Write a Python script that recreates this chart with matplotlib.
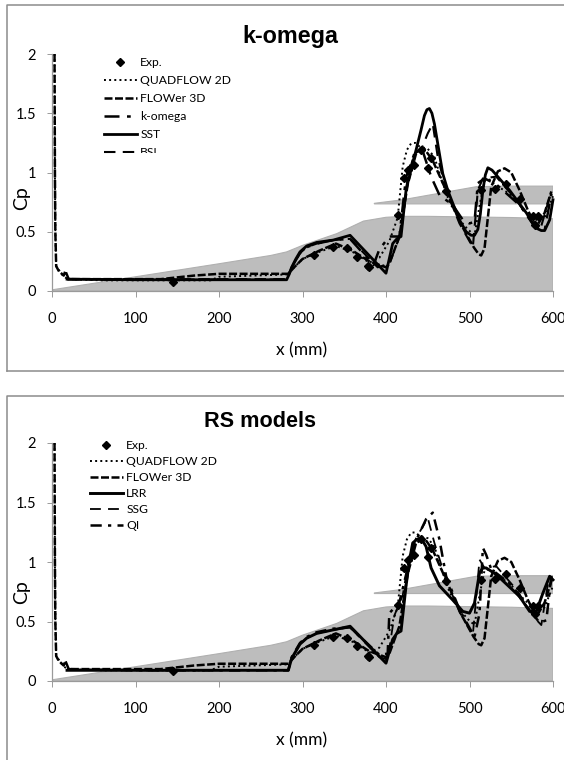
import matplotlib
matplotlib.use('Agg')
import matplotlib.pyplot as plt
from matplotlib.lines import Line2D
from matplotlib.patches import Rectangle

W, H = 564, 760

# ---- geometry of the bump (grey silhouette) ----
lower_x = [0, 100, 200, 262, 281, 300, 341, 373, 400, 420, 450, 500, 550, 600, 600, 0]
lower_y = [0.01, 0.12, 0.23, 0.30, 0.33, 0.385, 0.484, 0.59, 0.622, 0.63, 0.63, 0.625, 0.62, 0.61, 0, 0]
upper_x = [386, 420, 460, 508, 540, 600, 600, 386]
upper_y = [0.74, 0.77, 0.82, 0.88, 0.885, 0.885, 0.735, 0.735]

# ---- experiment ----
exp_x = [145, 314, 337, 353, 365, 378, 380, 414, 422, 426, 434, 442, 450, 454, 472, 514, 530, 544, 560, 576, 582, 578]
exp_y = [0.08, 0.30, 0.37, 0.36, 0.29, 0.21, 0.20, 0.64, 0.95, 1.02, 1.06, 1.19, 1.04, 1.12, 0.84, 0.85, 0.86, 0.90, 0.78, 0.63, 0.63, 0.56]

# ---- curves in both plots ----
quad_x = [3, 3.5, 4, 5, 8, 14, 20, 60, 120, 190, 200, 283, 290, 300, 320, 340, 360, 380, 392, 404, 414, 420, 425, 430, 435, 440, 450, 458, 466, 476, 488, 498, 506, 512, 518, 524, 530, 548, 566, 580, 590, 600]
quad_y = [2, 1, 0.5, 0.21, 0.18, 0.12, 0.10, 0.09, 0.09, 0.09, 0.12, 0.14, 0.20, 0.27, 0.33, 0.38, 0.33, 0.24, 0.28, 0.42, 0.62, 1.05, 1.19, 1.245, 1.25, 1.22, 1.20, 1.13, 0.95, 0.75, 0.60, 0.52, 0.47, 0.72, 0.93, 0.94, 0.90, 0.82, 0.68, 0.60, 0.62, 0.80]
flower_x = [3, 3.5, 4, 5, 8, 14, 16, 20, 60, 130, 170, 200, 283, 290, 300, 320, 340, 360, 380, 400, 404, 416, 426, 436, 446, 456, 470, 490, 505, 511, 514, 518, 526, 534, 542, 550, 560, 570, 580, 590, 598]
flower_y = [2, 1, 0.5, 0.21, 0.17, 0.13, 0.17, 0.10, 0.10, 0.10, 0.13, 0.145, 0.145, 0.20, 0.27, 0.34, 0.40, 0.34, 0.25, 0.20, 0.23, 0.46, 0.90, 1.16, 1.20, 1.10, 0.88, 0.56, 0.37, 0.31, 0.30, 0.36, 0.88, 1.01, 1.035, 1.00, 0.85, 0.68, 0.54, 0.66, 0.84]

# ---- top plot models ----
sst_x = [18, 100, 200, 281, 284, 287, 292, 297, 305, 317, 337, 357, 400, 408, 413, 418, 424, 430, 436, 442, 446, 449, 452, 455, 458, 463, 468, 474, 480, 488, 496, 502, 506, 510, 513, 516, 519, 522, 527, 532, 548, 568, 575, 580, 586, 590, 596, 600]
sst_y = [0.10, 0.095, 0.095, 0.095, 0.14, 0.20, 0.27, 0.33, 0.38, 0.41, 0.43, 0.47, 0.15, 0.40, 0.44, 0.46, 0.85, 1.03, 1.19, 1.36, 1.48, 1.53, 1.54, 1.50, 1.41, 1.20, 0.99, 0.85, 0.74, 0.60, 0.50, 0.47, 0.47, 0.52, 0.65, 0.85, 0.98, 1.04, 1.02, 0.98, 0.85, 0.66, 0.58, 0.53, 0.51, 0.51, 0.60, 0.77]
komega_x = [18, 100, 200, 281, 287, 297, 305, 317, 337, 357, 385, 392, 404, 416, 424, 434, 444, 454, 464, 480, 492, 500, 506, 510, 518, 532, 560, 576, 590, 598]
komega_y = [0.10, 0.095, 0.095, 0.095, 0.20, 0.32, 0.37, 0.40, 0.43, 0.44, 0.22, 0.35, 0.46, 0.46, 0.96, 1.16, 1.18, 0.965, 0.81, 0.725, 0.60, 0.57, 0.585, 0.91, 0.95, 0.90, 0.725, 0.57, 0.51, 0.82]
bsl_x = [18, 100, 200, 281, 287, 297, 305, 317, 337, 357, 390, 404, 418, 426, 434, 442, 450, 456, 462, 472, 488, 504, 510, 516, 532, 556, 576, 586, 598]
bsl_y = [0.10, 0.10, 0.10, 0.10, 0.20, 0.32, 0.37, 0.40, 0.43, 0.44, 0.20, 0.23, 0.49, 0.96, 1.16, 1.19, 1.33, 1.41, 1.13, 0.85, 0.57, 0.37, 0.85, 0.95, 0.965, 0.77, 0.56, 0.55, 0.84]

# ---- bottom plot models ----
lrr_x = [18, 100, 200, 283, 287, 292, 297, 305, 317, 337, 357, 400, 408, 413, 418, 424, 428, 432, 437, 442, 448, 454, 464, 480, 492, 500, 506, 512, 516, 520, 532, 560, 572, 580, 588, 596, 600]
lrr_y = [0.09, 0.09, 0.09, 0.09, 0.19, 0.25, 0.31, 0.36, 0.40, 0.43, 0.46, 0.15, 0.35, 0.40, 0.42, 0.80, 1.01, 1.16, 1.19, 1.20, 1.13, 0.95, 0.80, 0.68, 0.585, 0.57, 0.655, 0.91, 0.95, 0.95, 0.895, 0.71, 0.585, 0.585, 0.74, 0.88, 0.85]
ssg_x = [18, 100, 200, 283, 287, 297, 305, 317, 337, 357, 392, 402, 410, 420, 428, 436, 450, 458, 472, 488, 504, 512, 518, 532, 556, 580, 586, 594, 599]
ssg_y = [0.10, 0.09, 0.09, 0.09, 0.19, 0.31, 0.36, 0.40, 0.43, 0.45, 0.20, 0.18, 0.55, 0.72, 1.05, 1.20, 1.37, 1.16, 0.85, 0.58, 0.39, 1.02, 0.95, 0.965, 0.77, 0.515, 0.47, 0.82, 0.88]
qi_x = [18, 100, 200, 283, 287, 297, 305, 317, 337, 357, 392, 402, 404, 416, 426, 436, 448, 456, 464, 472, 488, 506, 512, 516, 520, 526, 548, 568, 584, 592, 598]
qi_y = [0.10, 0.09, 0.09, 0.09, 0.20, 0.32, 0.37, 0.41, 0.44, 0.45, 0.22, 0.23, 0.57, 0.66, 0.95, 1.18, 1.36, 1.415, 1.19, 0.88, 0.60, 0.37, 0.57, 1.12, 1.06, 0.94, 0.82, 0.63, 0.49, 0.51, 0.88]

x_ticks = [0, 100, 200, 300, 400, 500, 600]
y_ticks = [0, 0.5, 1, 1.5, 2]
y_labels = ['0', '0.5', '1', '1.5', '2']

plt.rcParams['font.family'] = ['Lato', 'DejaVu Sans']
fig = plt.figure(figsize=(W / 100, H / 100), dpi=100)


def px_line(xs, ys):
    fig.add_artist(Line2D([x / W for x in xs], [1 - y / H for y in ys], color='#8c8c8c', lw=1.1))


def draw_panel(bottom, top, title, title_x, title_y, title_size, curves, leg_x, leg_y, leg_space, ylabel_y, xlabel_y):
    ax = fig.add_axes([52 / W, 1 - bottom / H, 501 / W, (bottom - top) / H])
    ax.fill(lower_x, lower_y, color='#bdbdbd', ec='#b0b0b0', lw=0.8)
    ax.fill(upper_x, upper_y, color='#bdbdbd', ec='#b0b0b0', lw=0.8)
    ax.plot(exp_x, exp_y, ls='none', marker='D', ms=4, color='k', label='Exp.', zorder=5, clip_on=False)
    for cx, cy, name, style, lw in curves:
        ax.plot(cx, cy, color='k', ls=style, lw=lw, label=name, clip_on=False)
    ax.set_xlim(0, 600)
    ax.set_ylim(0, 2)
    ax.set_xticks(x_ticks)
    ax.set_yticks(y_ticks, y_labels)
    ax.tick_params(axis='x', length=4.5, width=0.7, color='#9a9a9a', pad=10.5, labelsize=10.5)
    ax.tick_params(axis='y', length=3.5, width=0.7, color='#9a9a9a', pad=8, labelsize=10.5)
    for s in ['top', 'right']:
        ax.spines[s].set_visible(False)
    for s in ['left', 'bottom']:
        ax.spines[s].set_color('#9a9a9a')
        ax.spines[s].set_linewidth(0.9)
    fig.text(title_x / W, 1 - title_y / H, title, fontsize=title_size, fontweight='bold', family='Liberation Sans',
             ha='center', va='center')
    fig.text(22 / W, 1 - ylabel_y / H, 'Cp', fontsize=14, rotation=90, ha='center', va='center')
    fig.text(302 / W, 1 - xlabel_y / H, 'x (mm)', fontsize=12.5, ha='center', va='center')
    ax.legend(loc='upper left', bbox_to_anchor=(leg_x / W, 1 - leg_y / H), bbox_transform=fig.transFigure,
              frameon=False, fontsize=8.7, handlelength=2.7, handletextpad=0.3, labelspacing=leg_space,
              borderaxespad=0, borderpad=0)


top_curves = [
    (quad_x, quad_y, 'QUADFLOW 2D', ':', 1.4),
    (flower_x, flower_y, 'FLOWer 3D', (0, (3.2, 1)), 1.8),
    (komega_x, komega_y, 'k-omega', (0, (6, 3, 1.5, 3)), 1.8),
    (sst_x, sst_y, 'SST', '-', 2.0),
    (bsl_x, bsl_y, 'BSL', (0, (5.5, 3.5)), 1.5),
]
bottom_curves = [
    (quad_x, quad_y, 'QUADFLOW 2D', ':', 1.4),
    (flower_x, flower_y, 'FLOWer 3D', (0, (3.2, 1)), 1.8),
    (lrr_x, lrr_y, 'LRR', '-', 2.1),
    (ssg_x, ssg_y, 'SSG', (0, (6, 4)), 1.3),
    (qi_x, qi_y, 'QI', (0, (4.5, 2.5, 1.3, 2.5)), 1.8),
]

draw_panel(291, 54, 'k-omega', 290, 36, 16.8, top_curves, 104, 57, 0.58, 198, 350)
draw_panel(681, 443, 'RS models', 260, 422, 15.6, bottom_curves, 90, 440, 0.42, 592, 740)

# chart frames, cut by the picture edge
px_line([6.5, 6.5, 564], [371, 5, 5])
px_line([6.5, 564], [371, 371])
px_line([6.5, 6.5, 564], [760, 396, 396])

# text clipped in the source picture
for x0, y0, w0, h0 in [(120, 153.5, 40, 6), (10, 712.5, 554, 6)]:
    fig.add_artist(Rectangle((x0 / W, 1 - (y0 + h0) / H), w0 / W, h0 / H, color='w', lw=0, zorder=10))

fig.savefig('out.png', dpi=100)
